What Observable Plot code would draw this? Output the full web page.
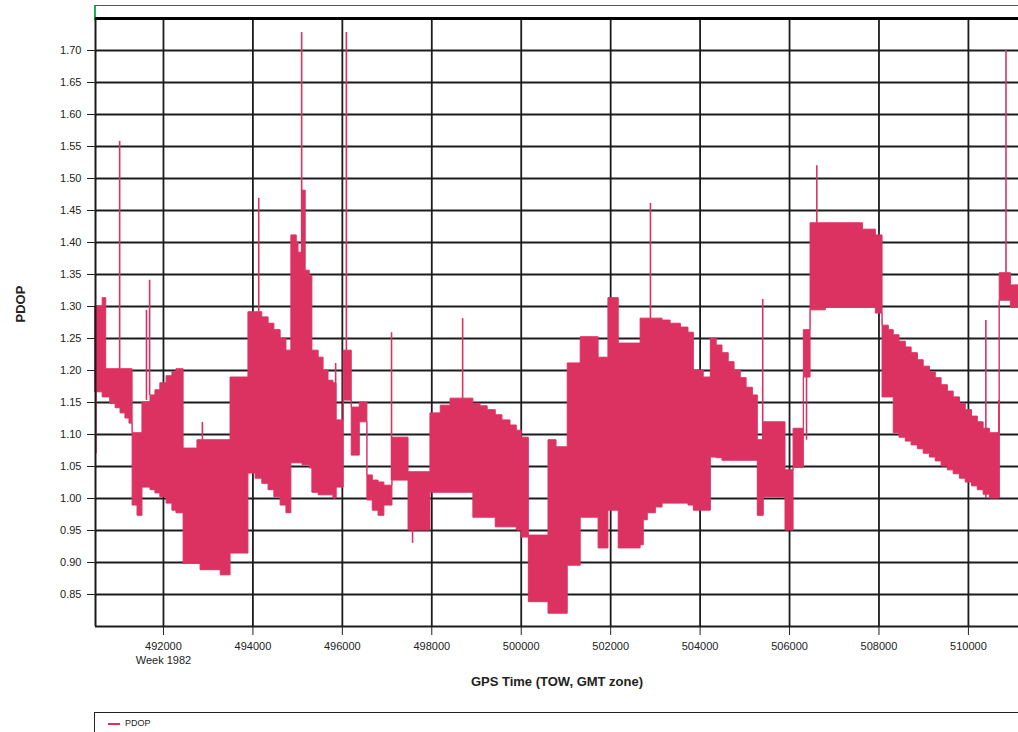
<!DOCTYPE html>
<html><head><meta charset="utf-8">
<script src="https://cdn.jsdelivr.net/npm/d3@7"></script>
<script src="https://cdn.jsdelivr.net/npm/@observablehq/plot@0.6"></script>
<style>
html,body{margin:0;padding:0;background:#fff;width:1018px;height:732px;overflow:hidden;font-family:"Liberation Sans",Arial,sans-serif;}
#wrap{position:relative;width:1018px;height:732px;overflow:hidden;}
#hdr{position:absolute;left:94px;top:5px;width:1000px;height:14px;border-top:1px solid #555;border-left:2px solid #1fae4f;}
#chart{position:absolute;left:0;top:0;}
#legend{position:absolute;left:94px;top:712px;width:1000px;height:30px;border:1px solid #222;font-size:9px;color:#222;}
#legend span.sw{position:absolute;left:13px;top:10px;width:12px;height:2px;background:#dc3262;}
#legend span.tx{position:absolute;left:30px;top:5px;}
</style></head>
<body><div id="wrap"><div id="hdr"></div><div id="chart"></div>
<div id="legend"><span class="sw"></span><span class="tx">PDOP</span></div></div>
<script>
// GPS time of week (start of each step), lower and upper PDOP envelope
const tow = [490480,490640,490720,490810,490930,491040,491150,491240,491310,491420,
491530,491710,491820,491930,492070,492200,492290,492450,492760,492830,
493280,493500,493900,494060,494210,494350,494480,494620,494750,494860,
494980,495020,495110,495180,495270,495330,495470,495580,495690,495800,
495870,496030,496210,496390,496560,496680,496810,496940,497120,497480,
497970,498200,498420,498930,499090,499250,499430,499580,499760,499900,
500010,500170,500610,500790,501040,501330,501730,501950,502180,502670,
502740,502830,503010,503160,503340,503570,503740,503860,504080,504240,
504370,504500,504640,504770,504910,505040,505180,505290,505420,505910,
506090,506320,506470,506810,507640,507930,508080,508220,508330,508460,
508600,508730,508870,509000,509140,509270,509400,509540,509670,509810,
509940,510080,510210,510340,510480,510700,510950,511120];
const pdopLow = [1.166,1.158,1.158,1.148,1.141,1.133,1.125,1.117,0.989,0.973,
1.017,1.013,1.008,1.002,0.992,0.981,0.977,0.898,0.898,0.888,
0.880,0.914,1.039,1.031,1.023,1.013,1.002,0.989,0.977,1.055,
1.055,1.055,1.052,1.052,1.047,1.009,1.005,1.005,1.005,1.000,
1.017,1.153,1.067,1.119,0.997,0.981,0.973,0.989,1.028,0.950,
1.009,1.009,1.009,0.970,0.970,0.970,0.955,0.955,0.955,0.950,
0.939,0.838,0.820,0.820,0.895,0.970,0.922,0.981,0.922,0.927,
0.966,0.977,0.986,0.992,0.992,0.992,0.989,0.981,0.981,1.064,
1.063,1.059,1.059,1.059,1.059,1.059,1.059,0.973,1.002,0.950,
1.048,1.189,1.294,1.298,1.298,1.289,1.158,1.158,1.102,1.095,
1.089,1.083,1.077,1.070,1.064,1.058,1.050,1.044,1.038,1.031,
1.025,1.019,1.013,1.006,1.000,1.309,1.298,1.298];
const pdopHigh = [1.300,1.313,1.202,1.202,1.202,1.202,1.202,1.202,1.102,1.102,
1.150,1.161,1.169,1.180,1.191,1.197,1.202,1.078,1.091,1.091,
1.091,1.189,1.291,1.291,1.283,1.273,1.263,1.250,1.231,1.411,
1.400,1.384,1.481,1.356,1.348,1.231,1.220,1.200,1.184,1.180,
1.122,1.231,1.142,1.150,1.036,1.028,1.025,1.020,1.095,1.041,
1.133,1.145,1.156,1.148,1.144,1.138,1.130,1.122,1.114,1.106,
1.095,0.942,1.091,1.080,1.211,1.252,1.220,1.313,1.242,1.281,
1.281,1.281,1.281,1.278,1.273,1.267,1.259,1.200,1.189,1.250,
1.239,1.227,1.213,1.200,1.188,1.173,1.161,1.091,1.119,1.044,
1.109,1.263,1.430,1.430,1.420,1.411,1.270,1.263,1.255,1.245,
1.236,1.227,1.216,1.206,1.197,1.188,1.177,1.167,1.158,1.148,
1.138,1.128,1.119,1.109,1.102,1.352,1.333,1.333];
// isolated PDOP spikes
const spikeTow  = [490490,491020,491620,491690,492870,494130,495090,495850,496090,497100,497570,498690,502890,505400,506380,506610,510390,510680,510840];
const spikeLow  = [1.070,1.202,1.153,1.161,1.091,1.291,1.384,1.000,1.231,1.028,0.930,1.156,1.281,0.973,1.091,1.430,1.000,1.000,1.352];
const spikeHigh = [1.291,1.558,1.294,1.341,1.119,1.469,1.728,1.211,1.728,1.259,0.960,1.281,1.461,1.311,1.189,1.520,1.278,1.153,1.700];
const yTicks = [0.85,0.90,0.95,1.00,1.05,1.10,1.15,1.20,1.25,1.30,1.35,1.40,1.45,1.50,1.55,1.60,1.65,1.70];
const xTicks = [492000,494000,496000,498000,500000,502000,504000,506000,508000,510000];
const weekLabel = "Week 1982";
const xTitle = "GPS Time (TOW, GMT zone)";
const yTitle = "PDOP";

const rows = tow.map((t, i) => ({t, lo: pdopLow[i], hi: pdopHigh[i]}));
const spikes = spikeTow.map((t, i) => ({t, lo: spikeLow[i], hi: spikeHigh[i]}));
const red = "#dc3262";
const grid = "#1c1c1c";

const chart = Plot.plot({
  width: 1018, height: 700,
  marginLeft: 95, marginRight: 0, marginTop: 18, marginBottom: 74,
  x: {domain: [490480, 511120]},
  y: {domain: [0.80, 1.75]},
  style: {fontFamily: "'Liberation Sans', Arial, sans-serif", fontSize: "11px", color: "#222", background: "transparent"},
  marks: [
    Plot.ruleY(yTicks, {stroke: grid, strokeWidth: 1.8}),
    Plot.ruleX(xTicks, {stroke: grid, strokeWidth: 1.8}),
    Plot.areaY(rows, {x: "t", y1: "lo", y2: "hi", curve: "step-after", fill: red, stroke: red, strokeWidth: 1}),
    Plot.ruleX(spikes, {x: "t", y1: "lo", y2: "hi", stroke: red, strokeWidth: 1.6}),
    Plot.ruleX([490480], {stroke: grid, strokeWidth: 2}),
    Plot.ruleY([0.80], {stroke: grid, strokeWidth: 2}),
    Plot.ruleY([1.75], {stroke: "#000", strokeWidth: 3}),
    Plot.axisY(yTicks, {tickSize: 8, tickPadding: 6, tickFormat: d3.format(".2f"), label: null, fontSize: 11}),
    Plot.axisX(xTicks, {tickSize: 9, tickPadding: 7, tickFormat: d => String(d), label: null, fontSize: 11}),
    Plot.text([{t: 492000, v: 0.80, s: weekLabel}], {x: "t", y: "v", text: "s", dy: 34, fontSize: 11}),
    Plot.text([xTitle], {frameAnchor: "bottom", text: d => d, dy: 59, fontWeight: "bold", fontSize: 13}),
    Plot.text([yTitle], {frameAnchor: "left", text: d => d, dx: -75, rotate: -90, fontWeight: "bold", fontSize: 13})
  ]
});
document.getElementById("chart").appendChild(chart);
</script></body></html>
